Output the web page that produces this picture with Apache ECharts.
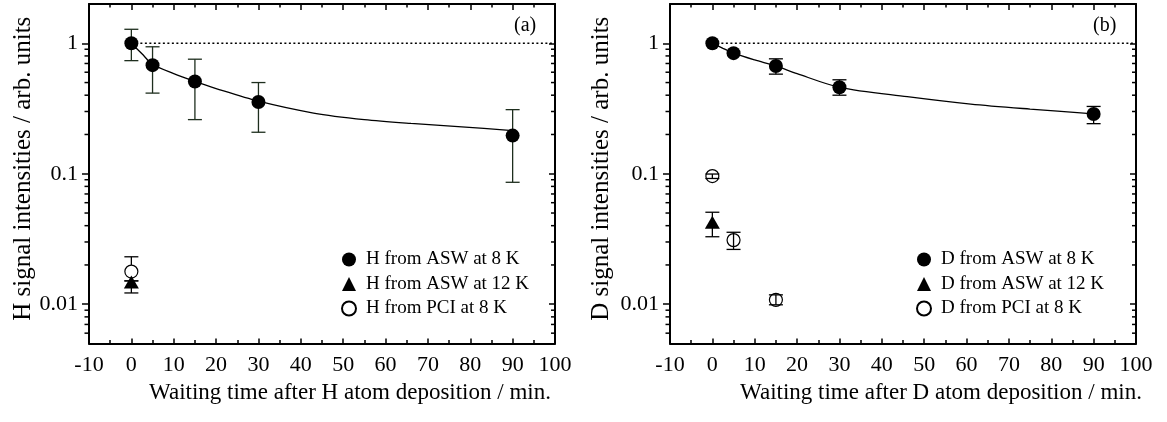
<!DOCTYPE html>
<html>
<head>
<meta charset="utf-8">
<script src="https://cdn.jsdelivr.net/npm/echarts@6/dist/echarts.min.js"></script>
<style>
  html, body { margin: 0; padding: 0; background: #fff; }
  #chart { width: 1167px; height: 422px; }
</style>
</head>
<body>
<div id="chart"></div>
<script>
// Axis ranges and tick labels
const xMin = -10, xMax = 100, xStep = 10;
const yMin = 0.005, yMax = 2;
const yTickLabels = ['0.01', '0.1', '1'];
const yMinorTicks = [0.006, 0.007, 0.008, 0.009,
  0.02, 0.03, 0.04, 0.05, 0.06, 0.07, 0.08, 0.09,
  0.2, 0.3, 0.4, 0.5, 0.6, 0.7, 0.8, 0.9];

// Panel (a): H signal
const aAswX = [0, 5, 15, 30, 90];
const aAswY = [1.0, 0.68, 0.51, 0.355, 0.196];
const aAswLo = [0.736, 0.415, 0.26, 0.208, 0.086];
const aAswHi = [1.28, 0.94, 0.755, 0.50, 0.31];
const a12X = [0];
const a12Y = [0.0148];
const a12Lo = [0.0122];
const a12Hi = [0.0151];
const aPciX = [0];
const aPciY = [0.0178];
const aPciLo = [0.0151];
const aPciHi = [0.0231];
const aFitX = [0, 2.5, 5, 10, 15, 20, 30, 43, 55, 66, 78, 90];
const aFitY = [1.0, 0.83, 0.69, 0.585, 0.51, 0.45, 0.36, 0.292, 0.26, 0.243, 0.229, 0.214];

// Panel (b): D signal
const bAswX = [0, 5, 15, 30, 90];
const bAswY = [1.0, 0.84, 0.67, 0.46, 0.287];
const bAswLo = [null, null, 0.58, 0.40, 0.242];
const bAswHi = [null, null, 0.76, 0.525, 0.328];
const b12X = [0];
const b12Y = [0.0425];
const b12Lo = [0.0329];
const b12Hi = [0.0507];
const bPciX = [0, 5, 15];
const bPciY = [0.096, 0.031, 0.0108];
const bPciLo = [0.092, 0.0263, 0.0099];
const bPciHi = [0.0995, 0.0356, 0.0118];
const bFitX = [0, 2.5, 5, 10, 15, 20, 30, 46, 61, 75, 90];
const bFitY = [1.0, 0.915, 0.84, 0.745, 0.67, 0.585, 0.46, 0.39, 0.342, 0.313, 0.288];

const names = {
  aAsw: 'H from ASW at 8 K', a12: 'H from ASW at 12 K', aPci: 'H from PCI at 8 K',
  bAsw: 'D from ASW at 8 K', b12: 'D from ASW at 12 K', bPci: 'D from PCI at 8 K'
};

const FONT = '"Liberation Serif", "Times New Roman", serif';

const zip = (xs, ys) => xs.map((x, i) => [x, ys[i]]);
const zipErr = (xs, lo, hi) => xs.map((x, i) => [x, lo[i], hi[i]]).filter(d => d[1] != null && d[2] != null);

function errorBar(params, api) {
  const x = api.value(0), lo = api.value(1), hi = api.value(2);
  const t = api.coord([x, hi]);
  const b = api.coord([x, lo]);
  const hw = 7;
  const style = { stroke: api.visual('color'), lineWidth: 1.3, fill: null };
  return {
    type: 'group',
    children: [
      { type: 'line', shape: { x1: t[0], y1: t[1], x2: b[0], y2: b[1] }, style },
      { type: 'line', shape: { x1: t[0] - hw, y1: t[1], x2: t[0] + hw, y2: t[1] }, style },
      { type: 'line', shape: { x1: b[0] - hw, y1: b[1], x2: b[0] + hw, y2: b[1] }, style }
    ]
  };
}

// Minor ticks of the log axes: outward on the left, inward on the right
function minorTicks(params, api) {
  const v = api.value(1);
  const L = api.coord([xMin, v]);
  const R = api.coord([xMax, v]);
  const style = { stroke: '#000', lineWidth: 1.5 };
  return {
    type: 'group',
    children: [
      { type: 'line', shape: { x1: L[0] - 4.5, y1: L[1], x2: L[0], y2: L[1] }, style },
      { type: 'line', shape: { x1: R[0] - 4, y1: R[1], x2: R[0], y2: R[1] }, style }
    ]
  };
}

function xAxisPair(gridIndex, title, titlePad) {
  const common = {
    gridIndex, type: 'value', min: xMin, max: xMax, interval: xStep,
    splitLine: { show: false },
    axisLine: { onZero: false, lineStyle: { color: '#000', width: 2 } }
  };
  return [
    Object.assign({}, common, {
      position: 'bottom',
      axisTick: { inside: true, length: 5, lineStyle: { width: 1.5 } },
      minorTick: { show: true, splitNumber: 2, length: 3.5, lineStyle: { color: '#000', width: 1.5 } },
      axisLabel: { color: '#000', fontFamily: FONT, fontSize: 22, margin: 11 },
      name: title, nameLocation: 'middle', nameGap: 29,
      nameTextStyle: { color: '#000', fontFamily: FONT, fontSize: 23, padding: [0, 0, 0, titlePad] }
    }),
    Object.assign({}, common, {
      position: 'top',
      axisTick: { inside: true, length: 6, lineStyle: { width: 1.5 } },
      minorTick: { show: true, splitNumber: 2, length: 3.5, lineStyle: { color: '#000', width: 1.5 } },
      axisLabel: { show: false }
    })
  ];
}

function yAxisPair(gridIndex, title, gap) {
  const common = {
    gridIndex, type: 'log', logBase: 10, min: yMin, max: yMax,
    splitLine: { show: false },
    axisLine: { onZero: false, lineStyle: { color: '#000', width: 2 } }
  };
  return [
    Object.assign({}, common, {
      position: 'left',
      axisTick: { inside: false, length: 7, lineStyle: { width: 1.5 } },
      axisLabel: {
        color: '#000', fontFamily: FONT, fontSize: 22, margin: 11,
        showMinLabel: false, showMaxLabel: false,
        formatter: v => {
          const e = Math.round(Math.log10(v));
          const idx = e + 2;
          return Math.abs(Math.log10(v) - e) < 1e-6 && yTickLabels[idx] ? yTickLabels[idx] : '';
        }
      },
      name: title, nameLocation: 'middle', nameGap: gap,
      nameTextStyle: { color: '#000', fontFamily: FONT, fontSize: 25, padding: [0, 0, 0, 10] }
    }),
    Object.assign({}, common, {
      position: 'right',
      axisTick: { inside: true, length: 6, lineStyle: { width: 1.5 } },
      axisLabel: { show: false }
    })
  ];
}

function panelSeries(xi, yi, d, barsOnTop) {
  const barZ = barsOnTop ? 8 : 4;
  return [
    { type: 'line', xAxisIndex: xi, yAxisIndex: yi, data: [[0, 1], [xMax, 1]], symbol: 'none', silent: true,
      lineStyle: { color: '#000', width: 1.6, type: [2, 2.5] }, z: 2 },
    { type: 'line', xAxisIndex: xi, yAxisIndex: yi, data: d.fit, symbol: 'none', smooth: 0.3, silent: true,
      lineStyle: { color: '#000', width: 1.3 }, z: 3 },
    { type: 'custom', xAxisIndex: xi, yAxisIndex: yi, data: d.aswErr, renderItem: errorBar, encode: { x: 0, y: [1, 2] },
      itemStyle: { color: d.aswBarColor }, silent: true, clip: false, z: barZ },
    { type: 'custom', xAxisIndex: xi, yAxisIndex: yi, data: d.pciErr, renderItem: errorBar, encode: { x: 0, y: [1, 2] },
      itemStyle: { color: '#000' }, silent: true, clip: false, z: barZ },
    { type: 'custom', xAxisIndex: xi, yAxisIndex: yi, data: d.k12Err, renderItem: errorBar, encode: { x: 0, y: [1, 2] },
      itemStyle: { color: '#000' }, silent: true, clip: false, z: barZ },
    { type: 'scatter', name: d.names[0], xAxisIndex: xi, yAxisIndex: yi, data: d.asw, symbol: 'circle', symbolSize: 14,
      itemStyle: { color: '#000', opacity: 1 }, z: 5 },
    { type: 'scatter', name: d.names[2], xAxisIndex: xi, yAxisIndex: yi, data: d.pci, symbol: 'circle', symbolSize: 13,
      itemStyle: { color: '#fff', borderColor: '#000', borderWidth: 1.2, opacity: 1 }, z: 5 },
    { type: 'scatter', name: d.names[1], xAxisIndex: xi, yAxisIndex: yi, data: d.k12, symbol: 'triangle', symbolSize: [15, 13],
      itemStyle: { color: '#000', opacity: 1 }, z: 6 },
    { type: 'custom', xAxisIndex: xi, yAxisIndex: yi, data: yMinorTicks.map(v => [xMin, v]), renderItem: minorTicks,
      encode: { x: 0, y: 1 }, silent: true, clip: false, z: 10 }
  ];
}

const panelA = {
  asw: zip(aAswX, aAswY), aswErr: zipErr(aAswX, aAswLo, aAswHi), aswBarColor: '#1e2e1e',
  k12: zip(a12X, a12Y), k12Err: zipErr(a12X, a12Lo, a12Hi),
  pci: zip(aPciX, aPciY), pciErr: zipErr(aPciX, aPciLo, aPciHi),
  fit: zip(aFitX, aFitY), names: [names.aAsw, names.a12, names.aPci]
};
const panelB = {
  asw: zip(bAswX, bAswY), aswErr: zipErr(bAswX, bAswLo, bAswHi), aswBarColor: '#000',
  k12: zip(b12X, b12Y), k12Err: zipErr(b12X, b12Lo, b12Hi),
  pci: zip(bPciX, bPciY), pciErr: zipErr(bPciX, bPciLo, bPciHi),
  fit: zip(bFitX, bFitY), names: [names.bAsw, names.b12, names.bPci]
};

function legendFor(left, data) {
  return {
    orient: 'vertical', left, top: 245, itemWidth: 14, itemHeight: 14, itemGap: 5.5,
    selectedMode: false, icon: 'circle',
    textStyle: { color: '#000', fontFamily: FONT, fontSize: 19, lineHeight: 19, padding: [0, 0, 0, 5] },
    data: [
      { name: data[0], icon: 'circle' },
      { name: data[1], icon: 'triangle' },
      { name: data[2], icon: 'circle' }
    ]
  };
}

const chart = echarts.init(document.getElementById('chart'), null, { renderer: 'canvas' });
chart.setOption({
  animation: false,
  backgroundColor: '#fff',
  grid: [
    { left: 89, top: 4, width: 466, height: 339.5 },
    { left: 670, top: 4, width: 466, height: 339.5 }
  ],
  xAxis: [].concat(
    xAxisPair(0, 'Waiting time after H atom deposition / min.', 56),
    xAxisPair(1, 'Waiting time after D atom deposition / min.', 76)
  ),
  yAxis: [].concat(
    yAxisPair(0, 'H signal intensities / arb. units', 52),
    yAxisPair(1, 'D signal intensities / arb. units', 56)
  ),
  legend: [legendFor(336, panelA.names), legendFor(911, panelB.names)],
  graphic: [
    { type: 'text', left: 514, top: 16, style: { text: '(a)', font: '20px ' + FONT, fill: '#000' } },
    { type: 'text', left: 1093, top: 16, style: { text: '(b)', font: '20px ' + FONT, fill: '#000' } }
  ],
  series: [].concat(
    panelSeries(0, 0, panelA, false),
    panelSeries(2, 2, panelB, true)
  )
});
</script>
</body>
</html>
